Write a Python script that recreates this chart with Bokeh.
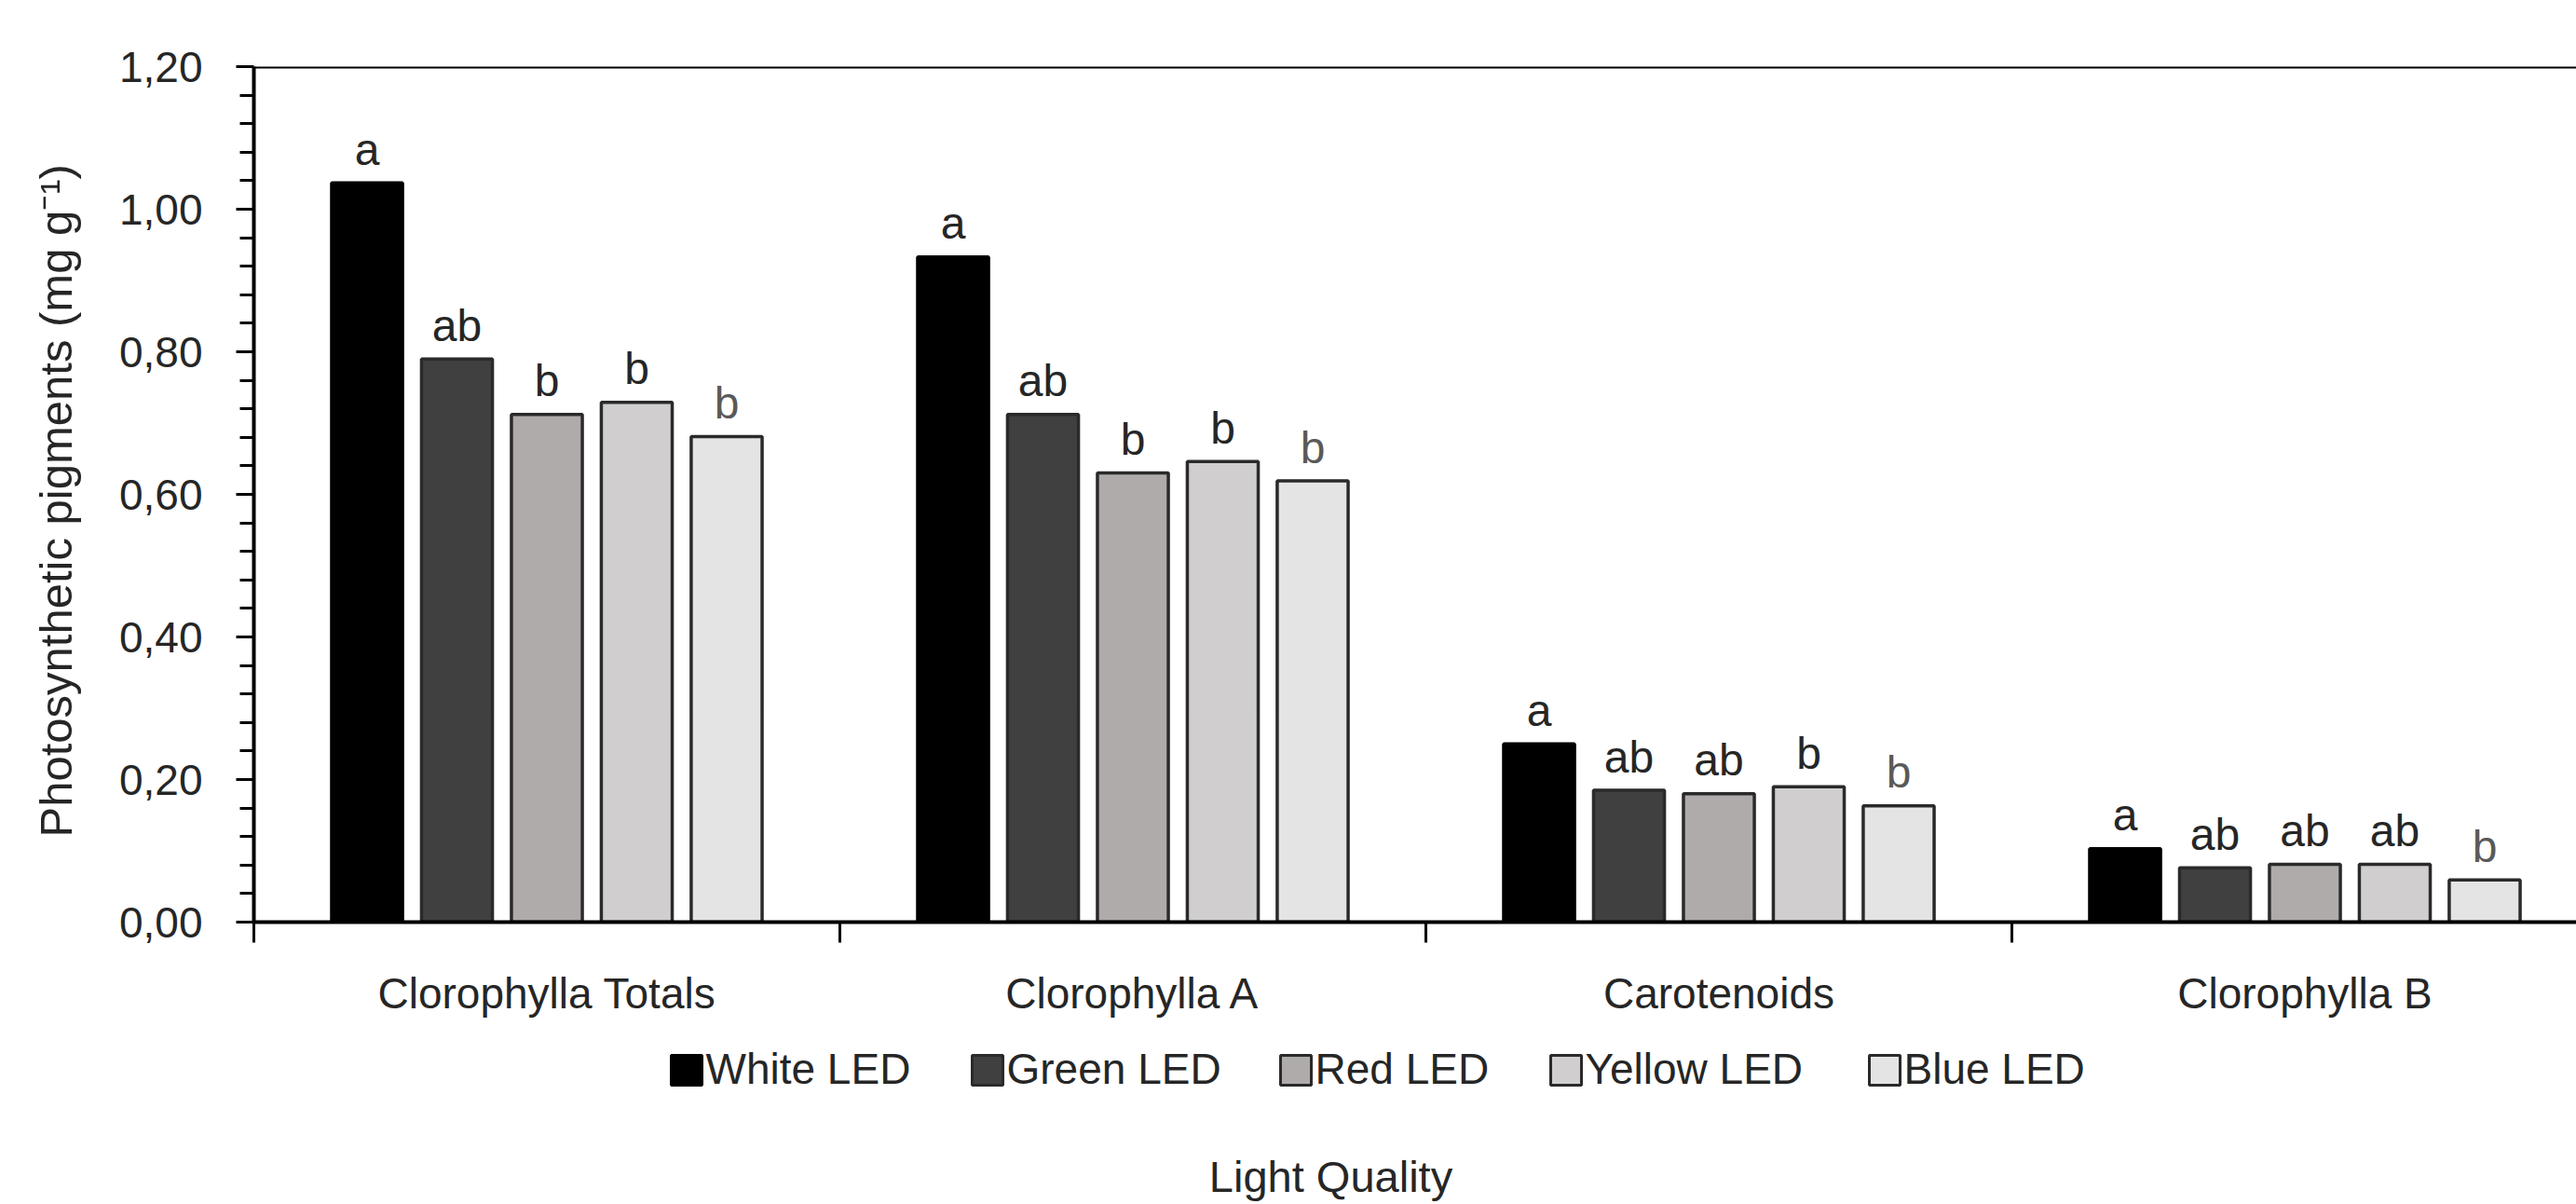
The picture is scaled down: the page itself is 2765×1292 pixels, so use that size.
from bokeh.plotting import figure
from bokeh.layouts import column
from bokeh.models import Range1d, FixedTicker, Span, ColumnDataSource
from bokeh.core.properties import value
from bokeh.embed import file_html
from bokeh.resources import INLINE

# ---------------- data ----------------
categories = ["Clorophylla Totals", "Clorophylla A", "Carotenoids", "Clorophylla B"]
series = ["White LED", "Green LED", "Red LED", "Yellow LED", "Blue LED"]

white_led = [1.037, 0.933, 0.250, 0.103]
green_led = [0.790, 0.712, 0.185, 0.076]
red_led = [0.712, 0.630, 0.180, 0.081]
yellow_led = [0.729, 0.646, 0.190, 0.081]
blue_led = [0.681, 0.619, 0.163, 0.059]

white_letters = ["a", "a", "a", "a"]
green_letters = ["ab", "ab", "ab", "ab"]
red_letters = ["b", "b", "ab", "ab"]
yellow_letters = ["b", "b", "b", "ab"]
blue_letters = ["b", "b", "b", "b"]

y_ticks = [0.0, 0.2, 0.4, 0.6, 0.8, 1.0, 1.2]
y_tick_labels = ["0,00", "0,20", "0,40", "0,60", "0,80", "1,00", "1,20"]

x_title = "Light Quality"
y_title = "Photosynthetic  pigments (mg g⁻¹)"

# ---------------- style / layout ----------------
FONT = "Liberation Sans"
TXT = "#262626"
fills = ["#000000", "#404040", "#AFABAA", "#D0CECF", "#E4E4E4"]
lines = ["#000000", "#2a2a2a", "#2a2a2a", "#2a2a2a", "#2a2a2a"]
letter_colors = [TXT, TXT, TXT, TXT, "#5a5a5a"]
PITCH = 0.1534
BAR_W = 0.121
W = 2765
H_MAIN = 1100
H_LEG = 192
LEFT = 272
TOP = 71
AXIS_Y = 989
X_END = (W - LEFT) / 629.0

p = figure(width=W, height=H_MAIN, output_backend="svg", toolbar_location=None,
           x_range=Range1d(0, X_END), y_range=Range1d(0, 1.2),
           min_border_left=LEFT, min_border_top=TOP,
           min_border_bottom=H_MAIN - AXIS_Y, min_border_right=0)
p.outline_line_color = None
p.xgrid.grid_line_color = None
p.ygrid.grid_line_color = None
p.background_fill_color = "white"
p.border_fill_color = "white"

all_vals = [white_led, green_led, red_led, yellow_led, blue_led]
all_letters = [white_letters, green_letters, red_letters, yellow_letters, blue_letters]

for i, name in enumerate(series):
    vals = all_vals[i]
    xs = [j + 0.5 + (i - 2) * PITCH for j in range(len(categories))]
    src = ColumnDataSource(dict(x=xs, top=vals, label=all_letters[i],
                                ly=[v + 0.047 for v in vals]))
    p.vbar(x="x", top="top", bottom=0, width=BAR_W, source=src,
           fill_color=fills[i], line_color=lines[i], line_width=3.5)
    p.text(x="x", y="ly", text="label", source=src, text_align="center",
           text_baseline="alphabetic", text_font=value(FONT),
           text_font_size="48px", text_color=letter_colors[i])

# top border line
p.add_layout(Span(location=1.2, dimension="width", line_color="black", line_width=4))

# y axis
yax = p.yaxis[0]
minor = [round(k * 0.04, 2) for k in range(31) if k % 5]
yax.ticker = FixedTicker(ticks=y_ticks, minor_ticks=minor)
yax.major_label_overrides = dict(zip(y_ticks, y_tick_labels))
yax.axis_line_width = 4
yax.axis_line_color = "black"
yax.major_tick_out = 19
yax.major_tick_in = 0
yax.major_tick_line_width = 3
yax.minor_tick_out = 15
yax.minor_tick_in = 0
yax.minor_tick_line_width = 3
yax.major_label_standoff = 36
yax.major_label_text_font = FONT
yax.major_label_text_font_size = "46px"
yax.major_label_text_color = TXT
yax.axis_label = y_title
yax.axis_label_text_font = FONT
yax.axis_label_text_font_size = "49px"
yax.axis_label_text_font_style = "normal"
yax.axis_label_text_color = TXT
yax.axis_label_standoff = 38

# x axis: labels at category centres, ticks at category boundaries
xax = p.xaxis[0]
xax.ticker = FixedTicker(ticks=[k + 0.5 for k in range(len(categories))],
                         minor_ticks=list(range(len(categories))))
xax.major_label_overrides = {k + 0.5: c for k, c in enumerate(categories)}
xax.axis_line_width = 4
xax.axis_line_color = "black"
xax.major_tick_line_color = None
xax.major_tick_out = 0
xax.major_tick_in = 0
xax.minor_tick_out = 22
xax.minor_tick_in = 0
xax.minor_tick_line_width = 3
xax.minor_tick_line_color = "black"
xax.major_label_standoff = 28
xax.major_label_text_font = FONT
xax.major_label_text_font_size = "46px"
xax.major_label_text_color = TXT

# ---------------- legend + x title strip (page pixel coordinates) ----------------
q = figure(width=W, height=H_LEG, output_backend="svg", toolbar_location=None,
           x_range=Range1d(LEFT, W), y_range=Range1d(H_MAIN + H_LEG, H_MAIN),
           x_axis_type=None, y_axis_type=None,
           min_border_left=LEFT, min_border_right=0, min_border_top=0,
           min_border_bottom=0)
q.outline_line_color = None
q.xgrid.grid_line_color = None
q.ygrid.grid_line_color = None
q.background_fill_color = "white"
q.border_fill_color = "white"

legend_left = [720, 1043, 1374, 1664, 2006]
SW, SH = 33, 32
LEG_CY = 1148
leg_src = ColumnDataSource(dict(
    x=[v + SW / 2 for v in legend_left], y=[LEG_CY] * len(series),
    tx=[v + SW + 4 for v in legend_left], ty=[LEG_CY - 2] * len(series),
    fill=fills, line=lines, label=series))
q.rect(x="x", y="y", width=SW, height=SH, source=leg_src,
       fill_color="fill", line_color="line", line_width=3)
q.text(x="tx", y="ty", text="label", source=leg_src, text_align="left",
       text_baseline="alphabetic", text_font=value(FONT), text_font_size="46px",
       text_color=TXT)

title_src = ColumnDataSource(dict(x=[1428], y=[1262], t=[x_title]))
q.text(x="x", y="y", text="t", source=title_src, text_align="center",
       text_baseline="alphabetic", text_font=value(FONT), text_font_size="47px",
       text_color=TXT)

open("out.html", "w").write(file_html(column(p, q, spacing=0), INLINE))
